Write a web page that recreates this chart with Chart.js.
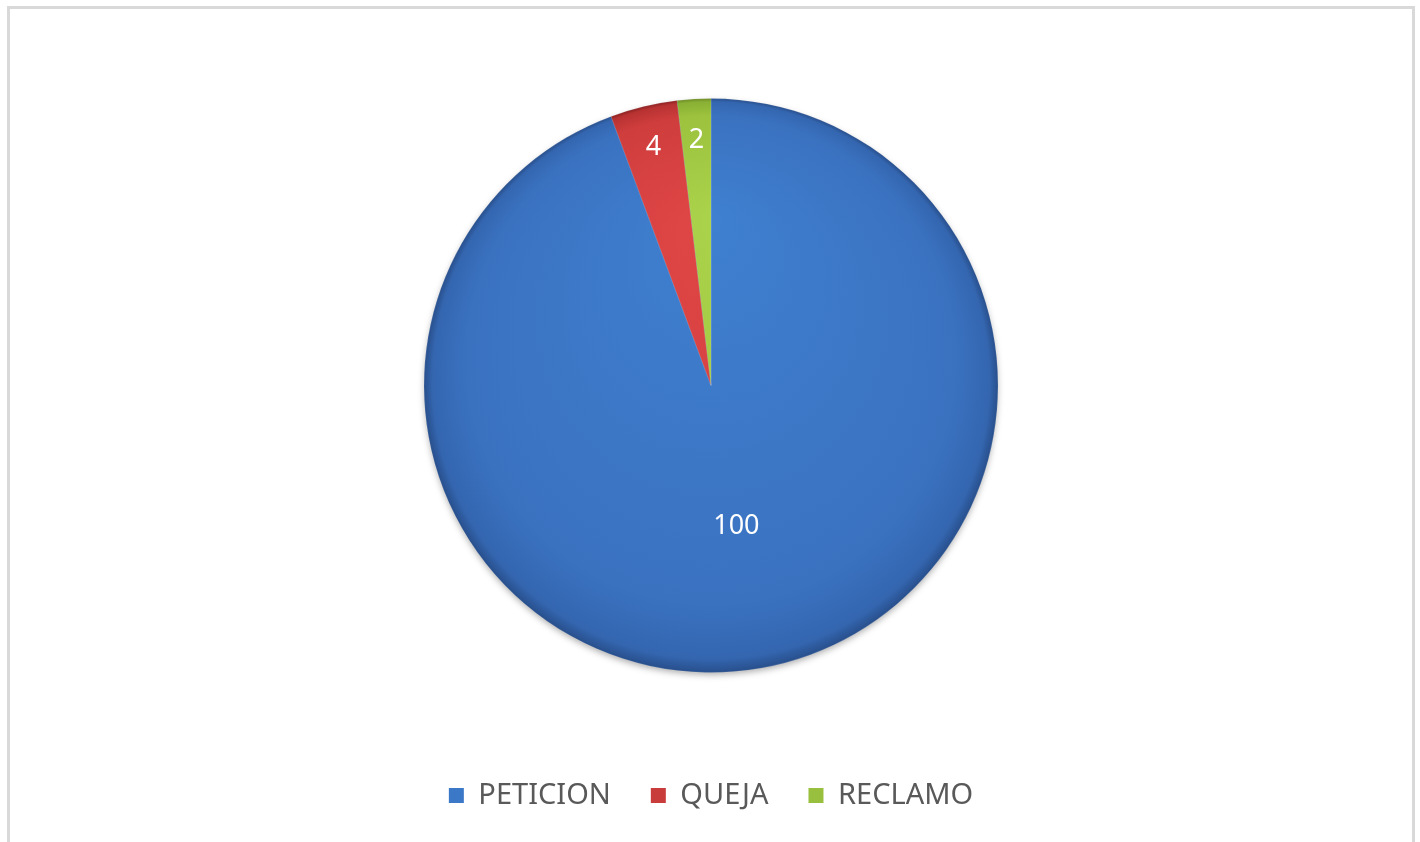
<!DOCTYPE html>
<html>
<head>
<meta charset="utf-8">
<script src="https://cdn.jsdelivr.net/npm/chart.js@4.4.1/dist/chart.umd.min.js"></script>
<style>
  html, body { margin: 0; padding: 0; background: #ffffff; }
  #wrap { position: relative; width: 1420px; height: 842px; }
</style>
</head>
<body>
<div id="wrap"><canvas id="chartPqr"></canvas></div>
<script>
const categorias = ['PETICION', 'QUEJA', 'RECLAMO'];
const valores = [100, 4, 2];
const coresBase = ['#3c78c8', '#c93c3c', '#98bf3e'];
const coresGradiente = [
  ['#3f80d0', '#3a72c0', '#3466b0', '#284f8c'],
  ['#e04646', '#cf3d3d', '#b83232', '#8c2222'],
  ['#aad24a', '#9cc23e', '#8ab034', '#6d8c26'],
];

const RAIO = 287;

function fundoFatia(context) {
  const chart = context.chart;
  const area = chart.chartArea;
  const i = context.dataIndex;
  if (!area) {
    return coresBase[i];
  }
  const cx = (area.left + area.right) / 2;
  const cy = (area.top + area.bottom) / 2;
  const g = chart.ctx.createRadialGradient(cx, cy - RAIO * 0.6, 0, cx, cy, RAIO);
  const c = coresGradiente[i];
  g.addColorStop(0, c[0]);
  g.addColorStop(0.85, c[1]);
  g.addColorStop(0.97, c[2]);
  g.addColorStop(1, c[3]);
  return g;
}

const molduraPlugin = {
  id: 'moldura',
  beforeDraw(chart) {
    const ctx = chart.ctx;
    ctx.save();
    ctx.strokeStyle = '#d9d9d9';
    ctx.lineWidth = 3;
    ctx.strokeRect(8.5, 7.5, 1405, 900);
    ctx.restore();
  },
  beforeDatasetsDraw(chart) {
    const arc = chart.getDatasetMeta(0).data[0];
    if (!arc) return;
    const ctx = chart.ctx;
    ctx.save();
    ctx.shadowColor = 'rgba(0, 0, 0, 0.35)';
    ctx.shadowBlur = 7;
    ctx.shadowOffsetY = 3;
    ctx.fillStyle = '#2f5a9a';
    ctx.beginPath();
    ctx.arc(arc.x, arc.y, arc.outerRadius - 1, 0, Math.PI * 2);
    ctx.fill();
    ctx.restore();
  },
};

const rotulosPlugin = {
  id: 'rotulos',
  afterDatasetsDraw(chart) {
    const ctx = chart.ctx;
    const meta = chart.getDatasetMeta(0);
    const total = valores.reduce((s, v) => s + v, 0);
    ctx.save();
    ctx.fillStyle = '#ffffff';
    ctx.font = '27px "Noto Sans", sans-serif';
    ctx.textAlign = 'center';
    ctx.textBaseline = 'middle';
    meta.data.forEach((arc, i) => {
      const meio = (arc.startAngle + arc.endAngle) / 2;
      const fator = valores[i] / total > 0.5 ? 0.5 : 0.855;
      const x = arc.x + Math.cos(meio) * arc.outerRadius * fator;
      const y = arc.y + Math.sin(meio) * arc.outerRadius * fator;
      ctx.fillText(String(valores[i]), x, y);
    });
    ctx.restore();
  },
};

const canvas = document.getElementById('chartPqr');
new Chart(canvas.getContext('2d'), {
  type: 'pie',
  data: {
    labels: categorias,
    datasets: [
      {
        data: valores,
        backgroundColor: fundoFatia,
        borderColor: 'rgba(255, 255, 255, 0.25)',
        borderWidth: 0.5,
      },
    ],
  },
  options: {
    responsive: true,
    maintainAspectRatio: false,
    animation: false,
    radius: RAIO,
    layout: {
      padding: { top: 30, bottom: 22, left: 2, right: 0 },
    },
    plugins: {
      tooltip: { enabled: false },
      legend: {
        display: true,
        position: 'bottom',
        labels: {
          boxWidth: 15,
          boxHeight: 15,
          padding: 40,
          color: '#595959',
          font: { family: '"Noto Sans"', size: 29 },
          generateLabels() {
            return categorias.map((nome, i) => ({
              text: nome,
              fillStyle: coresBase[i],
              strokeStyle: coresBase[i],
              lineWidth: 0,
              fontColor: '#595959',
              index: i,
            }));
          },
        },
      },
    },
  },
  plugins: [molduraPlugin, rotulosPlugin],
});
</script>
</body>
</html>
